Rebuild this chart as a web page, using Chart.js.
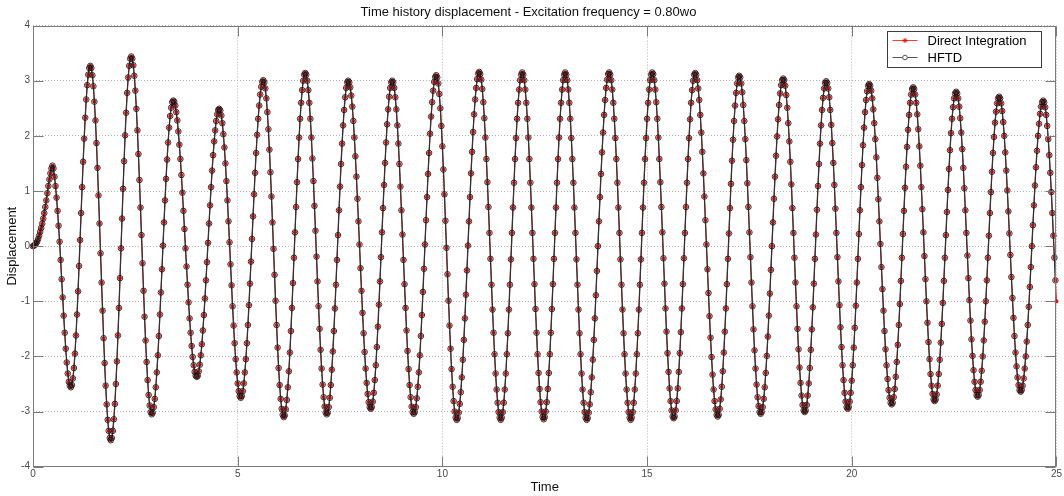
<!DOCTYPE html>
<html>
<head>
<meta charset="utf-8">
<title>Time history displacement</title>
<script src="https://cdn.jsdelivr.net/npm/chart.js@4.4.1/dist/chart.umd.min.js"></script>
<style>
    html, body { margin: 0; padding: 0; background: #fff; }
</style>
</head>
<body>
<canvas id="myChart" width="1064" height="496"></canvas>
<script>
// time grid of the integration (one sample every 0.025 s, from t = 0)
var tStart = 0;
var tStep = 0.025;

var xTicks = [0, 5, 10, 15, 20, 25];
var yTicks = [-4, -3, -2, -1, 0, 1, 2, 3, 4];

// displacement, one value per sample (t = 0 ... 25)
var directIntegration = [
    0, 0.01, 0.03, 0.05, 0.08, 0.13, 0.19, 0.26, 0.33, 0.41, 0.5, 0.6, 0.71, 0.83, 0.96, 1.09, 1.21, 1.32, 1.41, 1.46,
    1.41, 1.26, 1.09, 0.88, 0.64, 0.37, 0.08, -0.25, -0.6, -0.93, -1.26, -1.57, -1.86, -2.11, -2.31, -2.46, -2.53, -2.56,
    -2.52, -2.40, -2.21, -1.95, -1.62, -1.24, -0.82, -0.36, 0.11, 0.60, 1.07, 1.53, 1.95, 2.33, 2.66, 2.92, 3.11, 3.23, 3.27,
    3.23, 3.10, 2.90, 2.62, 2.28, 1.87, 1.42, 0.92, 0.41, -0.13, -0.66, -1.17, -1.67, -2.12, -2.53, -2.87, -3.15, -3.35, -3.48, -3.52,
    -3.48, -3.35, -3.14, -2.86, -2.50, -2.09, -1.62, -1.12, -0.58, -0.04, 0.50, 1.04, 1.54, 2.01, 2.42, 2.78, 3.06, 3.27, 3.40, 3.44,
    3.40, 3.28, 3.09, 2.82, 2.49, 2.10, 1.67, 1.20, 0.70, 0.20, -0.31, -0.81, -1.28, -1.71, -2.10, -2.43, -2.70, -2.89, -3.01, -3.05,
    -3.02, -2.92, -2.77, -2.56, -2.29, -1.98, -1.63, -1.24, -0.84, -0.42, 0.01, 0.43, 0.83, 1.22, 1.57, 1.88, 2.15, 2.36, 2.51, 2.61, 2.64,
    2.62, 2.55, 2.43, 2.28, 2.08, 1.84, 1.58, 1.29, 0.97, 0.64, 0.31, -0.04, -0.37, -0.70, -1.02, -1.31, -1.57, -1.81, -2.01, -2.16, -2.28, -2.35, -2.37,
    -2.35, -2.27, -2.15, -1.98, -1.78, -1.53, -1.25, -0.95, -0.62, -0.29, 0.06, 0.41, 0.74, 1.07, 1.37, 1.65, 1.90, 2.10, 2.27, 2.39, 2.47, 2.49,
    2.46, 2.37, 2.23, 2.03, 1.79, 1.50, 1.18, 0.83, 0.45, 0.07, -0.33, -0.71, -1.09, -1.44, -1.76, -2.05, -2.29, -2.49, -2.63, -2.72, -2.75,
    -2.72, -2.63, -2.49, -2.29, -2.05, -1.76, -1.43, -1.07, -0.68, -0.28, 0.13, 0.54, 0.94, 1.33, 1.69, 2.02, 2.31, 2.55, 2.75, 2.89, 2.98, 3.01,
    2.97, 2.86, 2.68, 2.43, 2.12, 1.75, 1.34, 0.90, 0.43, -0.05, -0.52, -0.99, -1.43, -1.84, -2.21, -2.52, -2.77, -2.95, -3.06, -3.10,
    -3.07, -2.96, -2.79, -2.56, -2.27, -1.93, -1.54, -1.12, -0.67, -0.21, 0.25, 0.71, 1.16, 1.58, 1.97, 2.31, 2.60, 2.83, 3.00, 3.11, 3.14,
    3.11, 3.00, 2.83, 2.60, 2.31, 1.97, 1.59, 1.18, 0.73, 0.28, -0.19, -0.64, -1.09, -1.50, -1.88, -2.22, -2.51, -2.74, -2.91, -3.02, -3.05,
    -3.02, -2.92, -2.75, -2.52, -2.24, -1.91, -1.54, -1.13, -0.70, -0.25, 0.20, 0.65, 1.08, 1.49, 1.86, 2.19, 2.47, 2.70, 2.87, 2.97, 3.00,
    2.97, 2.88, 2.73, 2.53, 2.27, 1.97, 1.63, 1.26, 0.86, 0.45, 0.03, -0.40, -0.81, -1.21, -1.58, -1.92, -2.22, -2.48, -2.68, -2.83, -2.92, -2.95,
    -2.92, -2.82, -2.66, -2.43, -2.16, -1.83, -1.46, -1.06, -0.64, -0.20, 0.25, 0.69, 1.11, 1.51, 1.88, 2.21, 2.48, 2.71, 2.87, 2.97, 3.00,
    2.97, 2.87, 2.70, 2.48, 2.19, 1.86, 1.49, 1.08, 0.65, 0.21, -0.25, -0.69, -1.12, -1.53, -1.90, -2.23, -2.52, -2.74, -2.91, -3.01, -3.04,
    -3.01, -2.92, -2.76, -2.55, -2.29, -1.98, -1.63, -1.25, -0.83, -0.41, 0.03, 0.47, 0.89, 1.31, 1.69, 2.04, 2.35, 2.61, 2.82, 2.98, 3.07, 3.10,
    3.06, 2.95, 2.76, 2.50, 2.18, 1.81, 1.39, 0.94, 0.46, -0.03, -0.51, -0.99, -1.44, -1.86, -2.23, -2.55, -2.81, -3.00, -3.11, -3.15,
    -3.12, -3.02, -2.86, -2.65, -2.38, -2.06, -1.70, -1.31, -0.88, -0.44, 0.01, 0.45, 0.89, 1.32, 1.71, 2.07, 2.39, 2.66, 2.87, 3.03, 3.13, 3.16,
    3.12, 3.02, 2.85, 2.61, 2.32, 1.97, 1.58, 1.16, 0.71, 0.24, -0.23, -0.70, -1.15, -1.57, -1.96, -2.31, -2.60, -2.84, -3.01, -3.11, -3.15,
    -3.11, -3.01, -2.84, -2.60, -2.31, -1.96, -1.58, -1.15, -0.70, -0.24, 0.24, 0.70, 1.15, 1.58, 1.96, 2.31, 2.60, 2.84, 3.01, 3.11, 3.15,
    3.11, 3.01, 2.84, 2.60, 2.31, 1.97, 1.58, 1.15, 0.70, 0.24, -0.23, -0.69, -1.14, -1.57, -1.96, -2.30, -2.59, -2.83, -3.00, -3.10, -3.14,
    -3.10, -3.00, -2.83, -2.59, -2.30, -1.96, -1.57, -1.14, -0.69, -0.23, 0.24, 0.70, 1.15, 1.58, 1.97, 2.31, 2.60, 2.84, 3.01, 3.11, 3.15,
    3.11, 3.01, 2.84, 2.60, 2.31, 1.96, 1.58, 1.15, 0.70, 0.24, -0.24, -0.70, -1.15, -1.58, -1.96, -2.31, -2.60, -2.84, -3.01, -3.11, -3.15,
    -3.12, -3.02, -2.87, -2.65, -2.38, -2.06, -1.70, -1.31, -0.89, -0.45, 0, 0.45, 0.89, 1.31, 1.70, 2.06, 2.38, 2.65, 2.87, 3.02, 3.12, 3.15,
    3.11, 3.01, 2.84, 2.60, 2.31, 1.96, 1.58, 1.15, 0.70, 0.24, -0.24, -0.70, -1.15, -1.58, -1.96, -2.31, -2.60, -2.84, -3.01, -3.11, -3.15,
    -3.11, -3.01, -2.84, -2.60, -2.31, -1.96, -1.58, -1.15, -0.70, -0.24, 0.24, 0.70, 1.15, 1.58, 1.96, 2.31, 2.60, 2.84, 3.01, 3.11, 3.15,
    3.12, 3.01, 2.84, 2.61, 2.31, 1.97, 1.58, 1.16, 0.71, 0.25, -0.22, -0.68, -1.13, -1.55, -1.94, -2.28, -2.58, -2.81, -2.98, -3.09, -3.12,
    -3.09, -2.98, -2.81, -2.58, -2.28, -1.94, -1.56, -1.13, -0.69, -0.22, 0.24, 0.71, 1.15, 1.58, 1.96, 2.30, 2.60, 2.83, 3.00, 3.11, 3.14,
    3.11, 3.01, 2.86, 2.65, 2.38, 2.06, 1.71, 1.32, 0.90, 0.47, 0.03, -0.42, -0.85, -1.27, -1.66, -2.01, -2.33, -2.60, -2.81, -2.96, -3.06, -3.09,
    -3.06, -2.95, -2.78, -2.55, -2.27, -1.93, -1.55, -1.13, -0.69, -0.23, 0.23, 0.69, 1.13, 1.55, 1.93, 2.27, 2.55, 2.78, 2.95, 3.06, 3.09,
    3.06, 2.95, 2.79, 2.56, 2.27, 1.94, 1.56, 1.14, 0.71, 0.25, -0.20, -0.66, -1.09, -1.51, -1.89, -2.22, -2.51, -2.74, -2.90, -3.01, -3.04,
    -3.01, -2.92, -2.77, -2.56, -2.30, -1.99, -1.64, -1.26, -0.86, -0.43, 0, 0.43, 0.86, 1.26, 1.64, 1.99, 2.30, 2.56, 2.77, 2.92, 3.01, 3.04,
    3.01, 2.91, 2.74, 2.51, 2.23, 1.90, 1.53, 1.12, 0.69, 0.24, -0.21, -0.66, -1.09, -1.50, -1.87, -2.20, -2.48, -2.71, -2.88, -2.98, -3.01,
    -2.98, -2.88, -2.71, -2.49, -2.21, -1.88, -1.51, -1.11, -0.68, -0.23, 0.21, 0.66, 1.09, 1.49, 1.86, 2.19, 2.47, 2.69, 2.86, 2.96, 2.99,
    2.96, 2.86, 2.70, 2.47, 2.20, 1.87, 1.51, 1.11, 0.68, 0.24, -0.20, -0.64, -1.07, -1.47, -1.83, -2.16, -2.43, -2.66, -2.82, -2.92, -2.95,
    -2.92, -2.82, -2.66, -2.44, -2.16, -1.84, -1.48, -1.08, -0.66, -0.23, 0.22, 0.65, 1.07, 1.47, 1.83, 2.15, 2.43, 2.65, 2.81, 2.91, 2.94,
    2.91, 2.82, 2.68, 2.48, 2.23, 1.94, 1.61, 1.24, 0.85, 0.45, 0.04, -0.38, -0.78, -1.17, -1.54, -1.87, -2.16, -2.41, -2.61, -2.75, -2.84, -2.87,
    -2.84, -2.74, -2.59, -2.37, -2.10, -1.79, -1.43, -1.05, -0.63, -0.21, 0.22, 0.64, 1.06, 1.44, 1.80, 2.11, 2.38, 2.60, 2.75, 2.85, 2.88,
    2.85, 2.75, 2.60, 2.39, 2.12, 1.81, 1.46, 1.07, 0.67, 0.25, -0.18, -0.60, -1.00, -1.39, -1.74, -2.05, -2.32, -2.53, -2.68, -2.78, -2.81,
    -2.78, -2.69, -2.53, -2.32, -2.06, -1.75, -1.41, -1.03, -0.63, -0.21, 0.20, 0.62, 1.02, 1.40, 1.74, 2.05, 2.31, 2.52, 2.68, 2.77, 2.80,
    2.77, 2.68, 2.53, 2.32, 2.06, 1.76, 1.42, 1.05, 0.65, 0.24, -0.17, -0.58, -0.98, -1.35, -1.69, -1.99, -2.25, -2.46, -2.61, -2.70, -2.73,
    -2.70, -2.61, -2.46, -2.26, -2.00, -1.71, -1.37, -1.00, -0.62, -0.21, 0.19, 0.60, 0.98, 1.35, 1.69, 1.98, 2.24, 2.44, 2.59, 2.68, 2.71,
    2.68, 2.59, 2.45, 2.25, 2.00, 1.70, 1.37, 1.01, 0.63, 0.23, -0.16, -0.56, -0.94, -1.30, -1.63, -1.93, -2.18, -2.38, -2.52, -2.61, -2.64,
    -2.61, -2.53, -2.40, -2.22, -2.00, -1.73, -1.43, -1.10, -0.74, -0.38, 0, 0.38, 0.74, 1.10, 1.43, 1.73, 2.00, 2.22, 2.40, 2.53, 2.61, 2.64,
    2.61, 2.52, 2.38, 2.18, 1.94, 1.65, 1.33, 0.98, 0.60, 0.19, -0.21, -0.62, -1.00
];

// HFTD lies on top of the direct integration, but stops one sample before t = 25
var hftd = directIntegration.slice(0, directIntegration.length - 1);

function toPoints(values) {
    return values.map(function (v, i) {
        return { x: tStart + i * tStep, y: v };
    });
}

Chart.defaults.font.family = '"Liberation Sans", Arial, Helvetica, sans-serif';

// MATLAB style box with inward ticks
var axesBox = {
    id: 'axesBox',
    afterDatasetsDraw: function (chart) {
        var ctx = chart.ctx;
        var a = chart.chartArea;
        var xs = chart.scales.x, ys = chart.scales.y;
        var l = Math.round(a.left) + 0.5, r = Math.round(a.right) - 0.5;
        var t = Math.round(a.top) + 0.5, b = Math.round(a.bottom) - 0.5;
        ctx.save();
        ctx.strokeStyle = '#7a7a7a';
        ctx.lineWidth = 1;
        ctx.strokeRect(l, t, r - l, b - t);
        ctx.beginPath();
        xTicks.forEach(function (v) {
            var px = Math.round(xs.getPixelForValue(v)) + 0.5;
            ctx.moveTo(px, b); ctx.lineTo(px, b - 10);
            ctx.moveTo(px, t); ctx.lineTo(px, t + 10);
        });
        yTicks.forEach(function (v) {
            var py = Math.round(ys.getPixelForValue(v)) + 0.5;
            ctx.moveTo(l, py); ctx.lineTo(l + 10, py);
            ctx.moveTo(r, py); ctx.lineTo(r - 10, py);
        });
        ctx.stroke();
        ctx.restore();
    }
};

function drawStar(ctx, x, y, r) {
    ctx.beginPath();
    ctx.moveTo(x - r, y); ctx.lineTo(x + r, y);
    ctx.moveTo(x, y - r); ctx.lineTo(x, y + r);
    var d = r * 0.707;
    ctx.moveTo(x - d, y - d); ctx.lineTo(x + d, y + d);
    ctx.moveTo(x - d, y + d); ctx.lineTo(x + d, y - d);
    ctx.stroke();
}

var boxedLegend = {
    id: 'boxedLegend',
    afterDraw: function (chart) {
        var ctx = chart.ctx;
        var a = chart.chartArea;
        var x = Math.round(a.right) - 168.5, y = Math.round(a.top) + 5.5;
        var w = 154, h = 36;
        ctx.save();
        ctx.fillStyle = '#fff';
        ctx.fillRect(x, y, w, h);
        ctx.strokeStyle = '#3c3c3c';
        ctx.lineWidth = 1;
        ctx.strokeRect(x, y, w, h);

        var di = chart.data.datasets[1], hf = chart.data.datasets[0];
        var rows = [
            { ds: di, cy: y + 9 },
            { ds: hf, cy: y + 26 }
        ];
        ctx.font = '13px "Liberation Sans", Arial, sans-serif';
        ctx.textBaseline = 'middle';
        rows.forEach(function (row) {
            ctx.strokeStyle = row.ds.legendLine;
            ctx.beginPath();
            ctx.moveTo(x + 5, row.cy);
            ctx.lineTo(x + 30, row.cy);
            ctx.stroke();
            if (row.ds.pointStyle === 'star') {
                ctx.strokeStyle = row.ds.pointBorderColor;
                drawStar(ctx, x + 17.5, row.cy, 2.5);
            } else {
                ctx.beginPath();
                ctx.arc(x + 17.5, row.cy, 2.3, 0, Math.PI * 2);
                ctx.fillStyle = '#fff';
                ctx.fill();
                ctx.strokeStyle = row.ds.legendLine;
                ctx.stroke();
            }
            ctx.fillStyle = '#000';
            ctx.fillText(row.ds.label, x + 40, row.cy + 0.5);
        });
        ctx.restore();
    }
};

new Chart(document.getElementById('myChart'), {
    type: 'line',
    data: {
        datasets: [{
                label: 'HFTD',
                data: toPoints(hftd),
                borderColor: '#333333',
                borderWidth: 1.3,
                legendLine: '#555555',
                pointStyle: 'circle',
                pointRadius: 2.8,
                pointBorderWidth: 1,
                pointBorderColor: 'rgba(20,20,20,0.85)',
                pointBackgroundColor: 'rgba(255,255,255,0)',
                order: 1,
                clip: 6
            },
            {
                label: 'Direct Integration',
                data: toPoints(directIntegration),
                borderColor: '#ff0000',
                borderWidth: 1,
                legendLine: '#ff4040',
                pointStyle: 'star',
                pointRadius: 2,
                pointBorderWidth: 1.2,
                pointBorderColor: '#ff0000',
                pointBackgroundColor: '#ff0000',
                order: 2,
                clip: 6
            }
        ]
    },
    options: {
        responsive: false,
        animation: false,
        events: [],
        layout: {
            padding: { left: 0, right: 7, top: 0, bottom: 0 }
        },
        plugins: {
            legend: { display: false },
            tooltip: { enabled: false },
            title: {
                display: true,
                text: 'Time history displacement - Excitation frequency = 0.80wo',
                color: '#111',
                font: { size: 13, weight: 'normal' },
                padding: { top: 5, bottom: 5 }
            }
        },
        scales: {
            x: {
                type: 'linear',
                min: 0,
                max: 25,
                afterBuildTicks: function (scale) {
                    scale.ticks = xTicks.map(function (v) { return { value: v }; });
                },
                afterFit: function (scale) { scale.height = 29.3; },
                ticks: {
                    color: '#4a4a4a',
                    font: { size: 10 },
                    padding: 2,
                    maxRotation: 0
                },
                grid: { color: '#b4b4b4', drawTicks: false },
                border: { display: false, dash: [1, 2] },
                title: {
                    display: true,
                    text: 'Time',
                    color: '#111',
                    font: { size: 13 },
                    padding: { top: 0, bottom: 1 }
                }
            },
            y: {
                type: 'linear',
                min: -4,
                max: 4,
                afterBuildTicks: function (scale) {
                    scale.ticks = yTicks.map(function (v) { return { value: v }; });
                },
                afterFit: function (scale) { scale.width = 33; },
                ticks: {
                    color: '#4a4a4a',
                    font: { size: 10 },
                    padding: 3
                },
                grid: { color: '#b4b4b4', drawTicks: false },
                border: { display: false, dash: [1, 2] },
                title: {
                    display: true,
                    text: 'Displacement',
                    color: '#111',
                    font: { size: 13 },
                    padding: { top: 5, bottom: 0 }
                }
            }
        }
    },
    plugins: [axesBox, boxedLegend]
});
</script>
</body>
</html>
